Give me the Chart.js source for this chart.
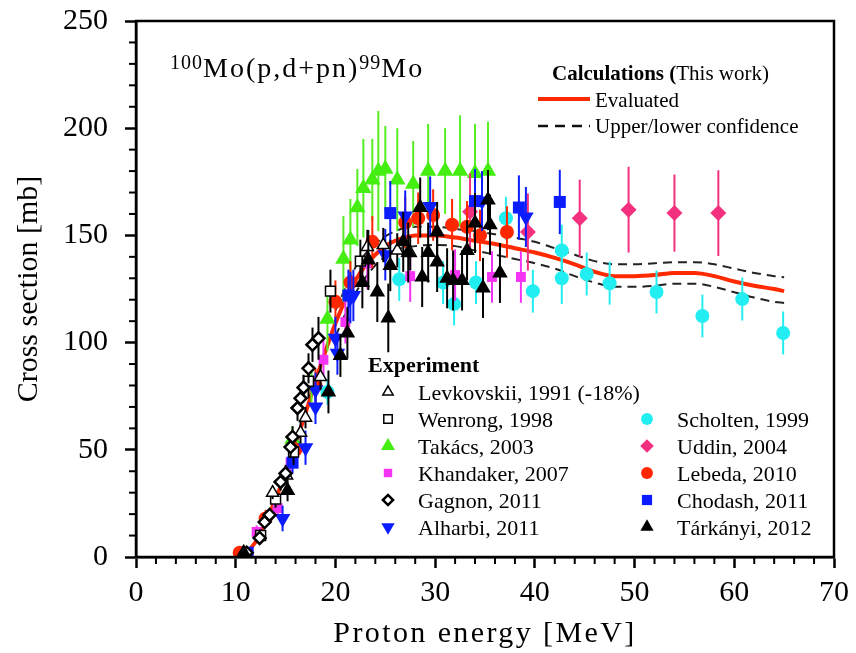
<!DOCTYPE html>
<html>
<head>
<meta charset="utf-8">
<script src="https://cdn.jsdelivr.net/npm/chart.js@4.4.0/dist/chart.umd.min.js"></script>
<style>
    html, body { margin: 0; padding: 0; background: #fff; }
    canvas { display: block; }
</style>
</head>
<body>
<canvas id="xsChart" width="856" height="653"></canvas>
<script>
// proton energy [MeV], cross section [mb], error [mb]
const levkE   = [13.7, 15.1, 16.5, 17.0, 18.5, 23.2, 24.8, 26.2, 27.5];
const levkXS  = [30, 38, 58, 65, 84, 144.6, 145.5, 143, 141.8];
const levkErr = [3, 4, 5, 5, 6, 8, 8, 8, 8];

const wenE   = [12.5, 14.0, 15.8, 17.3, 19.5, 22.5];
const wenXS  = [10, 27, 49, 82, 124, 138];
const wenErr = [3, 4, 6, 8, 10, 10];

const takE   = [15.7, 17.6, 19.2, 20.8, 21.5, 22.2, 22.8, 23.7, 24.3, 25.0, 26.2, 27.8, 29.3, 31.0, 32.5, 34.0, 35.3];
const takXS  = [55, 80, 111, 139, 148, 163, 172, 176, 180, 181, 176, 174, 180, 180, 180, 179, 180];
const takErr = [6, 8, 15, 20, 19, 18, 23, 19, 28, 20, 24, 20, 22, 20, 26, 23, 23];

const khaE   = [12.1, 14.2, 15.5, 18.8, 21.0, 23.2, 27.5, 32.0, 35.7, 38.6];
const khaXS  = [11.7, 22.8, 44, 92, 109.6, 137, 131, 131.5, 130.6, 130.6];
const khaErr = [3, 4, 6, 9, 10, 12, 12, 12, 12, 12];

const gagE   = [11.1, 12.4, 12.9, 13.4, 14.5, 15.0, 15.5, 15.7, 16.2, 16.5, 16.8, 17.3, 17.7, 18.3];
const gagXS  = [2, 8.9, 16.3, 19.6, 35, 39, 51.3, 56, 69.5, 74, 79, 88, 99, 102];
const gagErr = [1, 2, 3, 3, 4, 4, 5, 5, 6, 6, 6, 7, 8, 10];

const alhE   = [14.7, 17.0, 18.0, 18.0, 20.0, 20.2, 21.5, 21.8, 25.0, 27.0, 29.5, 34.7, 39.1];
const alhXS  = [18, 51, 70, 78, 102, 95, 121, 122, 141, 159, 163.5, 166, 158.6];
const alhErr = [6, 8, 8, 8, 10, 10, 12, 12, 12, 12, 14, 14, 14];

const schE   = [19.2, 26.4, 30.8, 31.9, 34.1, 37.1, 39.8, 42.7, 42.7, 45.2, 47.5, 52.2, 56.8, 60.8, 64.9];
const schXS  = [77, 129.5, 128, 118, 128, 158, 124, 143, 130, 132, 127.7, 123.6, 112.4, 120.3, 104.5];
const schErr = [6, 10, 10, 10, 10, 10, 10, 12, 12, 10, 10, 10, 10, 10, 10];

const uddE   = [33.5, 39.3, 44.5, 49.4, 54.0, 58.4];
const uddXS  = [161, 151.6, 158, 162, 160.4, 160.4];
const uddErr = [18, 18, 18, 20, 18, 20];

const lebE   = [10.4, 13.0, 16.0, 18.0, 20.0, 21.5, 23.7, 27.0, 28.3, 29.8, 31.7, 33.2, 34.5, 37.2];
const lebXS  = [2, 18, 50, 80, 119, 128, 147, 156, 158, 159.5, 155, 154, 150, 151.6];
const lebErr = [1, 4, 6, 8, 10, 10, 12, 12, 12, 12, 12, 12, 12, 12];

const choE   = [11.2, 15.7, 21.3, 25.5, 34.0, 38.4, 42.5];
const choXS  = [2, 44, 122, 160.4, 166, 163, 165.6];
const choErr = [2, 5, 12, 15, 15, 15, 15];

const tarE   = [10.8, 15.2, 19.3, 20.5, 21.2, 22.7, 23.3, 24.2, 25.3, 25.5, 26.8, 27.3, 28.5, 28.7, 29.3, 30.2, 30.2, 31.2, 31.8, 32.7, 33.2, 34.0, 34.8, 35.3, 35.5, 36.5];
const tarXS  = [2, 31, 77, 94, 104.5, 128, 138.5, 123.6, 111.5, 136, 147, 142, 163, 130.6, 142, 151.6, 137.6, 130, 129, 129, 143, 155.8, 125.5, 166.5, 155, 132.5];
const tarErr = [1, 5, 10, 10, 12, 12, 14, 14, 16, 12, 14, 14, 14, 14, 14, 14, 14, 14, 14, 14, 14, 14, 14, 14, 14, 14];

// calculation (this work)
const evalE  = [10, 11, 12, 13, 14, 15, 16, 17, 18, 19, 20, 21, 22, 23, 24, 25, 26, 27, 28, 29, 30, 32, 34, 36, 38, 40, 42, 44, 46, 48, 50, 52, 54, 56, 58, 60, 62, 64, 65];
const evalXS = [0, 2, 7, 16, 27, 39, 53, 67, 82, 96, 109, 120, 129, 136, 141, 145, 147.5, 149, 150, 150, 150, 149, 147.5, 146, 144, 142, 139.5, 136.5, 133, 131, 131, 131.5, 132.5, 132.5, 131, 128.5, 126.5, 125, 124];
const bandE  = [20, 22, 24, 26, 28, 30, 32, 34, 36, 38, 40, 42, 44, 46, 48, 50, 52, 54, 56, 58, 60, 62, 64, 65];
const upperXS = [115, 135, 146, 152, 154, 154, 153, 152, 150.5, 149, 147, 144, 141, 138, 136.5, 136.5, 137, 137.5, 137.5, 136.5, 134.5, 132.5, 131, 130.5];
const lowerXS = [103, 123, 136, 143, 145, 145.5, 145, 143, 141, 139, 137, 134.5, 131, 128, 126, 126, 126.5, 127.5, 127.5, 126, 123.5, 121, 119, 118.5];

const xTicksMinor = 2;
const yTicksMinor = 10;

const FONT = "'Liberation Serif', 'Times New Roman', serif";
Chart.defaults.font.family = FONT;
Chart.defaults.color = '#000';

const pts = (e, s) => e.map((x, i) => ({ x: x, y: s[i] }));

// marker styles for every experiment, used for plot and legend
const styles = {
    levk: { pointStyle: 'triangle', radius: 7, fill: '#fff', stroke: '#000', bw: 1.5, rot: 0, bar: '#000' },
    wen:  { pointStyle: 'rect', radius: 7, fill: '#fff', stroke: '#000', bw: 1.5, rot: 0, bar: '#000' },
    tak:  { pointStyle: 'triangle', radius: 9.5, fill: '#44ee11', stroke: '#44ee11', bw: 0, rot: 0, bar: '#55ee22' },
    kha:  { pointStyle: 'rect', radius: 7, fill: '#f533f5', stroke: '#f533f5', bw: 0, rot: 0, bar: '#f533f5' },
    gag:  { pointStyle: 'rectRot', radius: 6, fill: '#fff', stroke: '#000', bw: 2.5, rot: 0, bar: '#000' },
    alh:  { pointStyle: 'triangle', radius: 9, fill: '#0b1cff', stroke: '#0b1cff', bw: 0, rot: 180, bar: '#0b1cff' },
    sch:  { pointStyle: 'circle', radius: 7, fill: '#22eef2', stroke: '#22eef2', bw: 0, rot: 0, bar: '#22eef2' },
    udd:  { pointStyle: 'rectRot', radius: 8, fill: '#f3307f', stroke: '#f3307f', bw: 0, rot: 0, bar: '#f3307f' },
    leb:  { pointStyle: 'circle', radius: 7, fill: '#ff2600', stroke: '#ff2600', bw: 0, rot: 0, bar: '#ff2600' },
    cho:  { pointStyle: 'rect', radius: 8.5, fill: '#0b1cff', stroke: '#0b1cff', bw: 0, rot: 0, bar: '#0b1cff' },
    tar:  { pointStyle: 'triangle', radius: 9, fill: '#000', stroke: '#000', bw: 0, rot: 0, bar: '#000' }
};

function expSet(label, key, e, s, err, order) {
    const st = styles[key];
    return {
        type: 'scatter',
        label: label,
        data: pts(e, s),
        errors: err,
        errorColor: st.bar,
        showLine: false,
        pointStyle: st.pointStyle,
        pointRadius: st.radius,
        pointRotation: st.rot,
        pointBackgroundColor: st.fill,
        pointBorderColor: st.stroke,
        pointBorderWidth: st.bw,
        order: order
    };
}

// vertical error bars, drawn just before each dataset's markers
const errorBars = {
    id: 'errorBars',
    beforeDatasetDraw(chart, args) {
        const ds = chart.data.datasets[args.index];
        if (!ds.errors) return;
        const { ctx, chartArea, scales: { x, y } } = chart;
        ctx.save();
        ctx.beginPath();
        ctx.rect(chartArea.left, chartArea.top, chartArea.width, chartArea.height);
        ctx.clip();
        ctx.strokeStyle = ds.errorColor;
        ctx.lineWidth = 2;
        ds.data.forEach((p, i) => {
            const e = ds.errors[i];
            const px = x.getPixelForValue(p.x);
            ctx.beginPath();
            ctx.moveTo(px, y.getPixelForValue(p.y + e));
            ctx.lineTo(px, y.getPixelForValue(Math.max(p.y - e, 0)));
            ctx.stroke();
        });
        ctx.restore();
    }
};

// frame, minor ticks, axis titles, reaction label and legends
const decorations = {
    id: 'decorations',
    afterDraw(chart) {
        const { ctx, chartArea: a, scales: { x, y } } = chart;
        ctx.save();
        ctx.strokeStyle = '#000';
        ctx.lineWidth = 2.5;
        ctx.strokeRect(a.left, a.top, a.right - a.left, a.bottom - a.top);

        ctx.lineWidth = 2;
        for (let v = 0; v <= 70; v += xTicksMinor) {
            if (v % 10 === 0) continue;
            const px = x.getPixelForValue(v);
            ctx.beginPath(); ctx.moveTo(px, a.bottom); ctx.lineTo(px, a.bottom + 7); ctx.stroke();
        }
        for (let v = 0; v <= 250; v += yTicksMinor) {
            if (v % 50 === 0) continue;
            const py = y.getPixelForValue(v);
            ctx.beginPath(); ctx.moveTo(a.left - 7, py); ctx.lineTo(a.left, py); ctx.stroke();
        }

        ctx.fillStyle = '#000';
        // axis titles
        ctx.font = `30px ${FONT}`;
        ctx.letterSpacing = '2.4px';
        ctx.textAlign = 'center';
        ctx.textBaseline = 'alphabetic';
        ctx.fillText('Proton energy [MeV]', (a.left + a.right) / 2, 642);
        ctx.letterSpacing = '0px';
        ctx.save();
        ctx.translate(29, (a.top + a.bottom) / 2);
        ctx.rotate(-Math.PI / 2);
        ctx.textBaseline = 'middle';
        ctx.fillText('Cross section [mb]', 0, 0);
        ctx.restore();

        // reaction label
        ctx.textAlign = 'left';
        let tx = 170;
        const parts = [['100', 20, 69], ['Mo(p,d+pn)', 28, 77], ['99', 20, 69], ['Mo', 28, 77]];
        parts.forEach(([t, size, base]) => {
            ctx.font = `${size}px ${FONT}`;
            ctx.letterSpacing = size > 24 ? '2px' : '1px';
            ctx.fillText(t, tx, base);
            tx += ctx.measureText(t).width;
        });
        ctx.letterSpacing = '0px';

        // calculation legend
        ctx.font = `bold 21px ${FONT}`;
        ctx.fillText('Calculations (', 552, 80);
        const w1 = ctx.measureText('Calculations (').width;
        ctx.font = `21px ${FONT}`;
        ctx.fillText('This work)', 552 + w1, 80);
        ctx.strokeStyle = '#ff2a00';
        ctx.lineWidth = 4;
        ctx.beginPath(); ctx.moveTo(538, 99); ctx.lineTo(590, 99); ctx.stroke();
        ctx.fillText('Evaluated', 595, 107);
        ctx.strokeStyle = '#111';
        ctx.lineWidth = 2.5;
        ctx.setLineDash([10, 7]);
        ctx.beginPath(); ctx.moveTo(538, 126); ctx.lineTo(590, 126); ctx.stroke();
        ctx.setLineDash([]);
        ctx.fillText('Upper/lower confidence', 595, 133);

        // experiment legend
        ctx.font = `bold 22px ${FONT}`;
        ctx.fillText('Experiment', 368, 372);
        ctx.font = `22px ${FONT}`;
        const rows = [
            ['levk', 'Levkovskii, 1991 (-18%)', 388, 400],
            ['wen', 'Wenrong, 1998', 388, 427],
            ['tak', 'Takács, 2003', 388, 454],
            ['kha', 'Khandaker, 2007', 388, 481],
            ['gag', 'Gagnon, 2011', 388, 508],
            ['alh', 'Alharbi, 2011', 388, 535],
            ['sch', 'Scholten, 1999', 647, 427],
            ['udd', 'Uddin, 2004', 647, 454],
            ['leb', 'Lebeda, 2010', 647, 481],
            ['cho', 'Chodash, 2011', 647, 508],
            ['tar', 'Tárkányi, 2012', 647, 535]
        ];
        rows.forEach(([key, text, mx, base]) => {
            const st = styles[key];
            ctx.fillStyle = st.fill;
            ctx.strokeStyle = st.stroke;
            ctx.lineWidth = st.bw;
            Chart.helpers.drawPoint(ctx, {
                pointStyle: st.pointStyle,
                radius: st.radius * 0.85,
                rotation: st.rot,
                borderWidth: st.bw
            }, mx, base - 8);
            ctx.fillStyle = '#000';
            ctx.fillText(text, mx + 30, base);
        });
        ctx.restore();
    }
};

const ctx = document.getElementById('xsChart').getContext('2d');
new Chart(ctx, {
    type: 'scatter',
    data: {
        datasets: [
            {
                type: 'line', label: 'Evaluated', data: pts(evalE, evalXS),
                borderColor: '#ff2a00', borderWidth: 4, pointRadius: 0,
                cubicInterpolationMode: 'monotone', fill: false, order: 20
            },
            {
                type: 'line', label: 'Upper confidence', data: pts(bandE, upperXS),
                borderColor: '#222', borderWidth: 2, borderDash: [9, 6], pointRadius: 0,
                cubicInterpolationMode: 'monotone', fill: false, order: 20
            },
            {
                type: 'line', label: 'Lower confidence', data: pts(bandE, lowerXS),
                borderColor: '#222', borderWidth: 2, borderDash: [9, 6], pointRadius: 0,
                cubicInterpolationMode: 'monotone', fill: false, order: 20
            },
            expSet('Tárkányi, 2012', 'tar', tarE, tarXS, tarErr, 1),
            expSet('Gagnon, 2011', 'gag', gagE, gagXS, gagErr, 2),
            expSet('Levkovskii, 1991 (-18%)', 'levk', levkE, levkXS, levkErr, 3),
            expSet('Wenrong, 1998', 'wen', wenE, wenXS, wenErr, 4),
            expSet('Alharbi, 2011', 'alh', alhE, alhXS, alhErr, 5),
            expSet('Chodash, 2011', 'cho', choE, choXS, choErr, 6),
            expSet('Lebeda, 2010', 'leb', lebE, lebXS, lebErr, 7),
            expSet('Khandaker, 2007', 'kha', khaE, khaXS, khaErr, 8),
            expSet('Uddin, 2004', 'udd', uddE, uddXS, uddErr, 9),
            expSet('Scholten, 1999', 'sch', schE, schXS, schErr, 10),
            expSet('Takács, 2003', 'tak', takE, takXS, takErr, 11)
        ]
    },
    options: {
        responsive: false,
        animation: false,
        events: [],
        layout: { padding: { top: 21, right: 22, left: 0, bottom: 0 } },
        plugins: { legend: { display: false }, tooltip: { enabled: false } },
        scales: {
            x: {
                type: 'linear', min: 0, max: 70,
                afterFit: scale => { scale.height = 96; },
                ticks: { stepSize: 10, color: '#000', font: { size: 30 }, padding: 7, maxRotation: 0 },
                grid: { drawOnChartArea: false, tickLength: 11, tickWidth: 2.5, tickColor: '#000' },
                border: { color: '#000', width: 2.5 }
            },
            y: {
                type: 'linear', min: 0, max: 250,
                afterFit: scale => {
                    scale.width = 136;
                    scale.paddingTop = 0;
                    scale.paddingBottom = 0;
                },
                ticks: { stepSize: 50, color: '#000', font: { size: 30 }, padding: 17 },
                grid: { drawOnChartArea: false, tickLength: 11, tickWidth: 2.5, tickColor: '#000' },
                border: { color: '#000', width: 2.5 }
            }
        }
    },
    plugins: [errorBars, decorations]
});
</script>
</body>
</html>
